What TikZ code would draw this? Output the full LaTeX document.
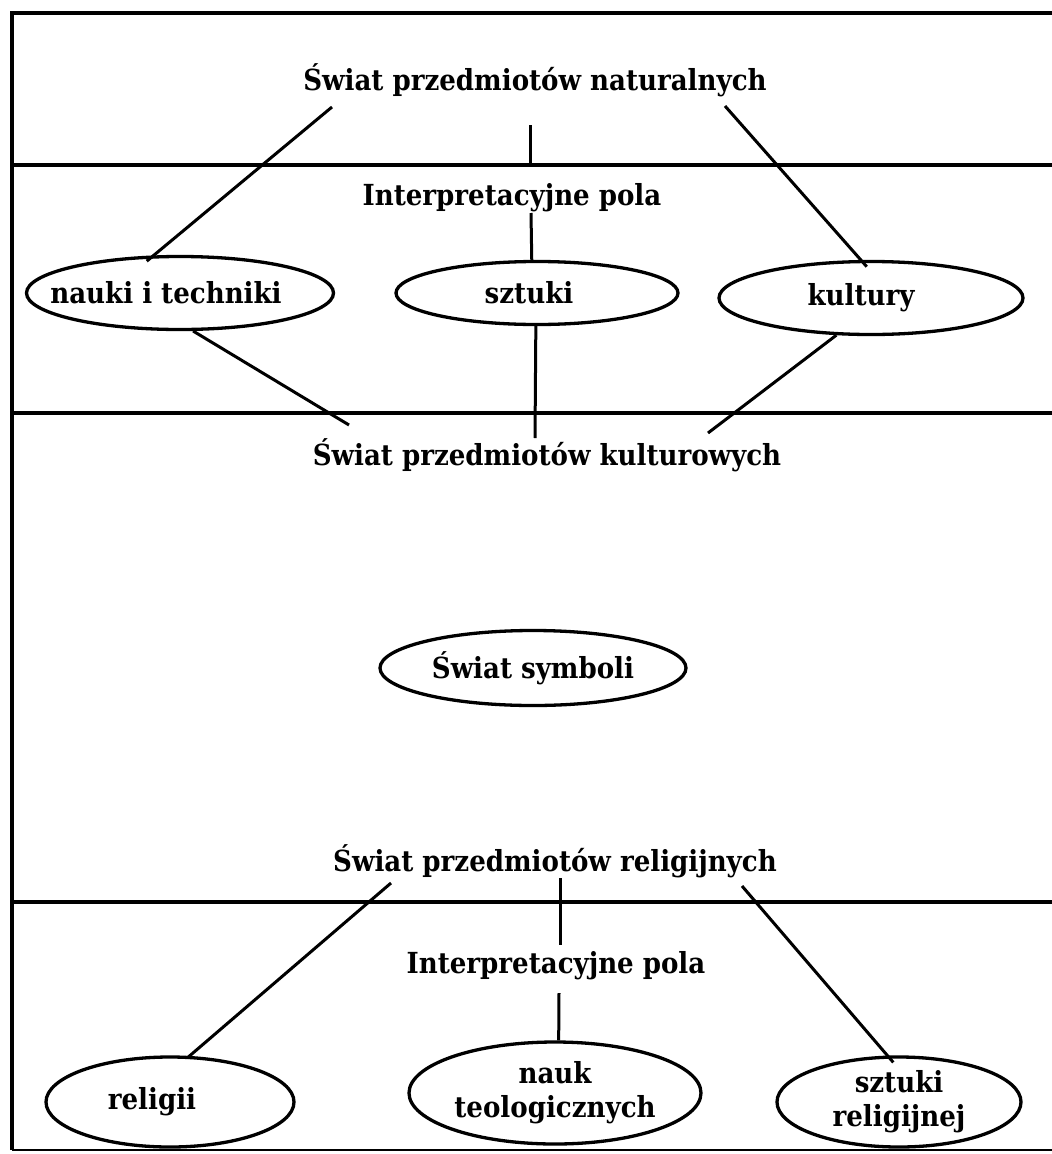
\documentclass[tikz,border=0pt]{standalone}
\usepackage{fontspec}
\setmainfont{DejaVu Serif Condensed}
\usetikzlibrary{shapes.geometric}
\newcommand{\shiftedtext}[2]{\makebox[0pt]{\hspace*{#1}#2}}
\begin{document}
\begin{tikzpicture}[x=1pt,y=-1pt,
  txt/.style={font=\bfseries\fontsize{29}{34}\selectfont, inner sep=0pt},
  ell/.style={txt, ellipse, draw, line width=3.3pt, align=center},
  conn/.style={line width=3pt},
  frm/.style={line width=3.3pt}]
\useasboundingbox[fill=white] (0,0) rectangle (1052,1154);
% frame
\coordinate (tl) at (12,13); \coordinate (tr) at (1052,13);
\coordinate (bl) at (12,1150); \coordinate (br) at (1052,1150);
\draw[frm] (tr) -- (tl) -- (bl);
\draw[line width=2pt] (bl) -- (br);
\coordinate (h1l) at (12,165); \coordinate (h1r) at (1052,165);
\coordinate (h2l) at (12,413); \coordinate (h2r) at (1052,413);
\coordinate (h3l) at (12,902); \coordinate (h3r) at (1052,902);
\draw[frm] (h1l) -- (h1r);
\draw[frm] (h2l) -- (h2r);
\draw[frm] (h3l) -- (h3r);
% texts
\node[txt, anchor=base] (nat) at (535,90) {Świat przedmiotów naturalnych};
\node[txt, anchor=base] (ip1) at (512,205) {Interpretacyjne pola};
\node[txt, anchor=base] (kult) at (547,465) {Świat przedmiotów kulturowych};
\node[txt, anchor=base] (rel) at (555,871) {Świat przedmiotów religijnych};
\node[txt, anchor=base] (ip2) at (556,973) {Interpretacyjne pola};
% ellipses
\node[ell, minimum width=307pt, minimum height=73pt] (e1) at (180,293) {\shiftedtext{-28pt}{nauki i techniki}};
\node[ell, minimum width=282pt, minimum height=63pt] (e2) at (537,293) {\shiftedtext{-16pt}{sztuki}};
\node[ell, minimum width=304pt, minimum height=73pt] (e3) at (871,298) {\shiftedtext{-20pt}{kultury}};
\node[ell, minimum width=306pt, minimum height=75pt] (sym) at (533,668) {\shiftedtext{0pt}{Świat symboli}};
\node[ell, minimum width=248pt, minimum height=90pt] (e4) at (170,1102) {\shiftedtext{-36pt}{religii}};
\node[ell, minimum width=292pt, minimum height=102pt] (e5) at (555,1093) {nauk\\teologicznych};
\node[ell, minimum width=244pt, minimum height=90pt] (e6) at (899,1102) {sztuki\\religijnej};
% connector free ends
\coordinate (a1) at (332,107);
\coordinate (a2) at (530,125); \coordinate (a2b) at (530,165);
\coordinate (a3) at (725,106);
\coordinate (a4) at (531,213);
\coordinate (b1) at (349,425);
\coordinate (b2) at (535,438);
\coordinate (b3) at (708,433);
\coordinate (c1) at (391,883);
\coordinate (c2) at (560,878); \coordinate (c2b) at (560,945);
\coordinate (c3) at (742,886);
\coordinate (c4) at (559,993);
% connectors
\draw[conn, shorten >=-9pt] (a1) -- (e1.125);
\draw[conn] (a2) -- (a2b);
\draw[conn, shorten >=-9pt] (a3) -- (e3.105);
\draw[conn] (a4) -- (e2.99);
\draw[conn] (e1.-71) -- (b1);
\draw[conn] (e2.-92) -- (b2);
\draw[conn] (e3.-133) -- (b3);
\draw[conn, shorten >=-3pt] (c1) -- (e4.67);
\draw[conn] (c2) -- (c2b);
\draw[conn, shorten >=-9pt] (c3) -- (e6.104);
\draw[conn] (c4) -- (e5.86);
\end{tikzpicture}
\end{document}
